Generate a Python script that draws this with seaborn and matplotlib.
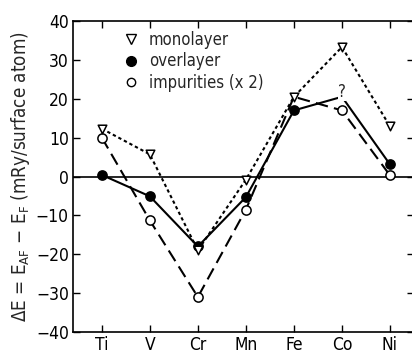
import matplotlib
matplotlib.use("Agg")
import matplotlib.pyplot as plt
import seaborn as sns
import pandas as pd
import numpy as np
from matplotlib.lines import Line2D

elements = ["Ti", "V", "Cr", "Mn", "Fe", "Co", "Ni"]
monolayer = [12.3, 5.7, -19.0, -0.8, 20.5, 33.3, 12.9]
overlayer = [0.4, -5.1, -18.0, -5.3, 17.0, 20.5, 3.1]
impurities = [10.0, -11.3, -31.0, -8.5, 20.5, 17.0, 0.3]
yticks = [-40, -30, -20, -10, 0, 10, 20, 30, 40]

sns.set_theme(style="ticks")
plt.rcParams["font.family"] = ["DejaVu Sans"]
plt.rcParams["font.stretch"] = "condensed"

x = np.arange(len(elements))
df = pd.DataFrame({
    "x": np.tile(x, 3),
    "val": monolayer + overlayer + impurities,
    "series": ["monolayer"] * 7 + ["overlayer"] * 7 + ["impurities (x 2)"] * 7,
})

fig = plt.figure(figsize=(4.12, 3.54), dpi=100)
ax = fig.add_axes([73 / 412, 22 / 354, 341 / 412, 311 / 354])

ax.axhline(0, color="black", lw=1.2, zorder=1)

sns.lineplot(data=df, x="x", y="val", hue="series", style="series",
             palette={"monolayer": "black", "overlayer": "black", "impurities (x 2)": "black"},
             dashes={"monolayer": (1.6, 1.4), "overlayer": "", "impurities (x 2)": (6, 3)},
             lw=1.5, legend=False, ax=ax, zorder=2)

ms = 44
imp_mask = [True, True, True, True, False, True, True]
ax.scatter(x[imp_mask], np.array(impurities)[imp_mask], s=ms, marker="o",
           facecolor="white", edgecolor="black", lw=1.1, zorder=4)
ov_mask = [True, True, True, True, True, False, True]
ax.scatter(x[ov_mask], np.array(overlayer)[ov_mask], s=ms, marker="o",
           facecolor="black", edgecolor="black", lw=1.1, zorder=5)
ax.scatter(x, monolayer, s=38, marker="v",
           facecolor="white", edgecolor="black", lw=1.1, zorder=6)
ax.text(5, overlayer[5] + 1.2, "?", ha="center", va="center", fontsize=12,
        bbox=dict(facecolor="white", edgecolor="none", pad=0.2), zorder=5)

ax.set_xlim(-0.6, 6.5)
ax.set_ylim(-40, 40)
ax.set_xticks(x)
ax.set_xticklabels(elements)
ax.set_yticks(yticks)
ax.tick_params(direction="in", top=True, right=True, length=5, width=1,
               labelsize=12.5, pad=3, colors="black")
for s in ax.spines.values():
    s.set_linewidth(1.2)
    s.set_color("black")
ax.set_xlabel("")
ax.set_ylabel(r"$\Delta$E = E$_{\mathrm{AF}}$ $-$ E$_{\mathrm{F}}$ (mRy/surface atom)", fontsize=13.5, labelpad=3)

handles = [
    Line2D([], [], ls="none", marker="v", ms=7, mfc="white", mec="black"),
    Line2D([], [], ls="none", marker="o", ms=7, mfc="black", mec="black"),
    Line2D([], [], ls="none", marker="o", ms=6, mfc="white", mec="black"),
]
ax.legend(handles, ["monolayer", "overlayer", "impurities (x 2)"], loc="upper left",
          bbox_to_anchor=(0.11, 1.005), frameon=False, fontsize=12,
          handlelength=1.0, handletextpad=0.6, labelspacing=0.2, borderpad=0.2)

fig.savefig("out.png", dpi=100)
